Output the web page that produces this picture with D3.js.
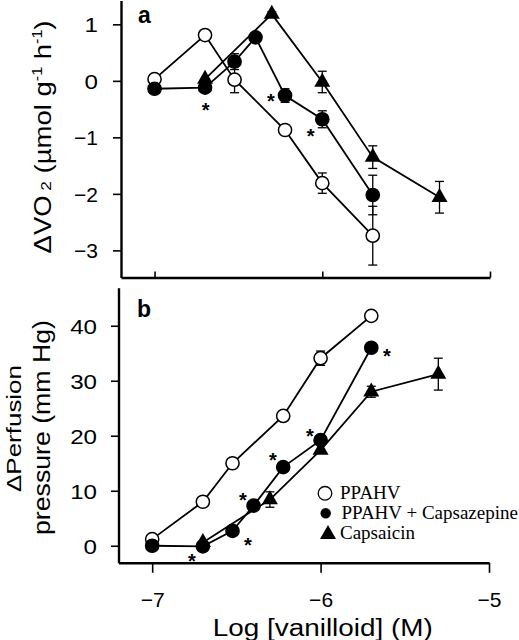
<!DOCTYPE html>
<html><head><meta charset="utf-8">
<script src="https://cdn.jsdelivr.net/npm/d3@7"></script>
<style>body{margin:0;background:#fff}svg{display:block}</style>
</head><body>
<script>
// ---------- data ----------
const concPPAHV = [-7, -6.699, -6.523, -6.222, -6, -5.699];
const concCapz  = [-7, -6.699, -6.523, -6.398, -6.222, -6, -5.699];
const concCaps  = [-6.699, -6.301, -6, -5.699, -5.301];

const vo2PPAHV    = [0.03, 0.81, 0.02, -0.87, -1.81, -2.74];
const vo2PPAHVErr = [0, 0, 0.23, 0, 0.18, 0.52];
const vo2Capz     = [-0.14, -0.12, 0.34, 0.77, -0.26, -0.68, -2.02];
const vo2CapzErr  = [0, 0, 0.14, 0, 0.12, 0.15, 0.35];
const vo2Caps     = [0.03, 1.18, -0.02, -1.35, -2.06];
const vo2CapsErr  = [0, 0.04, 0.19, 0.2, 0.28];

const ppPPAHV    = [1.2, 8.0, 15.0, 23.6, 34.1, 41.8];
const ppPPAHVErr = [0, 0, 0, 0, 1.3, 0];
const ppCapz     = [0, -0.1, 2.7, 7.3, 14.3, 19.2, 36.0];
const ppCapzErr  = [0, 0, 0, 0, 0, 0, 0];
const ppCaps     = [0.6, 8.4, 17.4, 28.0, 31.2];
const ppCapsErr  = [0, 1.4, 0, 1.0, 2.9];

const xTicks   = [-7, -6, -5];
const vo2Ticks = [-3, -2, -1, 0, 1];
const ppTicks  = [0, 10, 20, 30, 40];
const seriesNames = ["PPAHV", "PPAHV + Capsazepine", "Capsaicin"];
const starsA = [[-6.696, -0.437], [-6.307, -0.29], [-6.069, -0.91]];
const starsB = [[-5.606, 35.3], [-6.063, 20.7], [-6.283, 16.3], [-6.461, 9.04], [-6.432, 0.9], [-6.764, -2.1]];

// ---------- setup ----------
const W = 519, H = 640;
const SANS = "'Liberation Sans', Arial, Helvetica, sans-serif";
const SERIF = "'Liberation Serif', 'Times New Roman', serif";
const svg = d3.select("body").append("svg").attr("width", W).attr("height", H)
  .style("font-family", SANS);

const xA = d3.scaleLinear().domain([-7.2, -5]).range([121, 490]);
const yA = d3.scaleLinear().domain([-3.48, 1.42]).range([277.5, 0.6]);
const xB = d3.scaleLinear().domain([-7.2, -5]).range([118.5, 489]);
const yB = d3.scaleLinear().domain([-3.1, 46.9]).range([562.8, 287.8]);
const fmt = d3.format("d");

function fit(sel, len) { sel.attr("textLength", len).attr("lengthAdjust", "spacingAndGlyphs"); }

function styleAxis(g, w) {
  g.select(".domain").attr("stroke", "#000").attr("stroke-width", w);
  g.selectAll(".tick line").attr("stroke", "#000").attr("stroke-width", 1.6);
  g.selectAll(".tick text").attr("fill", "#000").style("font-family", SANS).style("font-size", "21px")
    .each(function () {
      const t = d3.select(this);
      const txt = t.text();
      if (!/[\u2212-]/.test(txt)) {
        const L = this.getComputedTextLength();
        fit(t, L * 1.15);
      }
    });
}

function triPath(cx, cy) {
  const w = 16, h = 14;
  return `M${cx},${cy - 2 * h / 3}L${cx + w / 2},${cy + h / 3}L${cx - w / 2},${cy + h / 3}Z`;
}

function drawPanel(x, y, series, stars) {
  const g = svg.append("g");
  const line = d3.line().x(d => x(d[0])).y(d => y(d[1]));
  series.forEach(s => {
    const pts = s.xs.map((v, i) => [v, s.ys[i], s.err[i]]);
    const sg = g.append("g");
    sg.append("path").attr("d", line(pts)).attr("fill", "none")
      .attr("stroke", "#000").attr("stroke-width", 1.8);
    pts.filter(p => p[2] > 0).forEach(p => {
      const cx = x(p[0]), y1 = y(p[1] + p[2]), y2 = y(p[1] - p[2]);
      sg.append("line").attr("x1", cx).attr("x2", cx).attr("y1", y1).attr("y2", y2)
        .attr("stroke", "#000").attr("stroke-width", 1.3);
      [y1, y2].forEach(yy => sg.append("line").attr("x1", cx - 4.5).attr("x2", cx + 4.5)
        .attr("y1", yy).attr("y2", yy).attr("stroke", "#000").attr("stroke-width", 1.3));
    });
    pts.forEach(p => {
      if (s.shape === "tri") {
        sg.append("path").attr("d", triPath(x(p[0]), y(p[1]))).attr("fill", "#000");
      } else {
        sg.append("circle").attr("cx", x(p[0])).attr("cy", y(p[1])).attr("r", 6.6)
          .attr("fill", s.shape === "open" ? "#fff" : "#000")
          .attr("stroke", "#000").attr("stroke-width", 1.5);
      }
    });
  });
  g.selectAll("text.star").data(stars).join("text").attr("class", "star")
    .attr("x", d => x(d[0])).attr("y", d => y(d[1]) + 11)
    .attr("text-anchor", "middle").style("font-size", "20px").style("font-weight", "bold")
    .text("*");
}

// ---------- panel a ----------
const axAy = svg.append("g").attr("transform", `translate(${xA(-7.2)},0)`)
  .call(d3.axisLeft(yA).tickValues(vo2Ticks).tickFormat(fmt).tickSize(8).tickSizeOuter(0).tickPadding(15));
styleAxis(axAy, 2.4);
axAy.selectAll(".tick text").attr("dy", "0.36em");
const axAx = svg.append("g").attr("transform", `translate(0,${yA(-3.48)})`)
  .call(d3.axisTop(xA).tickValues(xTicks).tickSize(6).tickSizeOuter(0).tickFormat(""));
styleAxis(axAx, 2.4);

drawPanel(xA, yA, [
  {xs: concPPAHV, ys: vo2PPAHV, err: vo2PPAHVErr, shape: "open"},
  {xs: concCaps, ys: vo2Caps, err: vo2CapsErr, shape: "tri"},
  {xs: concCapz, ys: vo2Capz, err: vo2CapzErr, shape: "filled"}
], starsA);

svg.append("text").attr("x", 138).attr("y", 22.7).style("font-size", "23px")
  .style("font-weight", "bold").text("a");

const ylabA = svg.append("text").attr("transform", "translate(51,137) rotate(-90)")
  .attr("text-anchor", "middle").style("font-size", "24px");
ylabA.append("tspan").text("ΔVO");
ylabA.append("tspan").attr("dx", 4).style("font-size", "15px").text("2");
ylabA.append("tspan").text(" (µmol g");
ylabA.append("tspan").attr("dy", -9).style("font-size", "14px").text("-1");
ylabA.append("tspan").attr("dy", 9).text(" h");
ylabA.append("tspan").attr("dy", -9).style("font-size", "14px").text("-1");
ylabA.append("tspan").attr("dy", 9).text(")");
fit(ylabA, 233);

// ---------- panel b ----------
const axBy = svg.append("g").attr("transform", `translate(${xB(-7.2)},0)`)
  .call(d3.axisLeft(yB).tickValues(ppTicks).tickFormat(fmt).tickSize(7.5).tickSizeOuter(0).tickPadding(14));
styleAxis(axBy, 2.4);
axBy.selectAll(".tick text").attr("dy", "0.36em");
const axBx = svg.append("g").attr("transform", `translate(0,${yB(-3.1)})`)
  .call(d3.axisBottom(xB).tickValues(xTicks).tickFormat(fmt).tickSize(10).tickSizeOuter(0).tickPadding(19));
styleAxis(axBx, 2.4);

drawPanel(xB, yB, [
  {xs: concPPAHV, ys: ppPPAHV, err: ppPPAHVErr, shape: "open"},
  {xs: concCaps, ys: ppCaps, err: ppCapsErr, shape: "tri"},
  {xs: concCapz, ys: ppCapz, err: ppCapzErr, shape: "filled"}
], starsB);

svg.append("text").attr("x", 137).attr("y", 316.7).style("font-size", "23px")
  .style("font-weight", "bold").text("b");

const yl1 = svg.append("text").attr("transform", "translate(21,428.5) rotate(-90)")
  .attr("text-anchor", "middle").style("font-size", "21px").text("ΔPerfusion");
fit(yl1, 127);
const yl2 = svg.append("text").attr("transform", "translate(50,427.5) rotate(-90)")
  .attr("text-anchor", "middle").style("font-size", "23px").text("pressure (mm Hg)");
fit(yl2, 215);

const xl = svg.append("text").attr("x", 322.8).attr("y", 636).attr("text-anchor", "middle")
  .style("font-size", "23px").text("Log [vanilloid] (M)");
fit(xl, 220);

// ---------- legend ----------
const leg = svg.append("g").style("font-family", SERIF).style("font-size", "19px");
const legY = [493.3, 513.3, 533.3];
leg.append("circle").attr("cx", 325).attr("cy", legY[0]).attr("r", 6.8)
  .attr("fill", "#fff").attr("stroke", "#000").attr("stroke-width", 1.3);
leg.append("circle").attr("cx", 325.7).attr("cy", legY[1]).attr("r", 5.2).attr("fill", "#000");
leg.append("path").attr("d", triPath(328, legY[2] + 1)).attr("fill", "#000");
seriesNames.forEach((n, i) => {
  leg.append("text").attr("x", i === 1 ? 341.5 : 340).attr("y", legY[i] + 5.3).text(n);
});
</script>
</body></html>
